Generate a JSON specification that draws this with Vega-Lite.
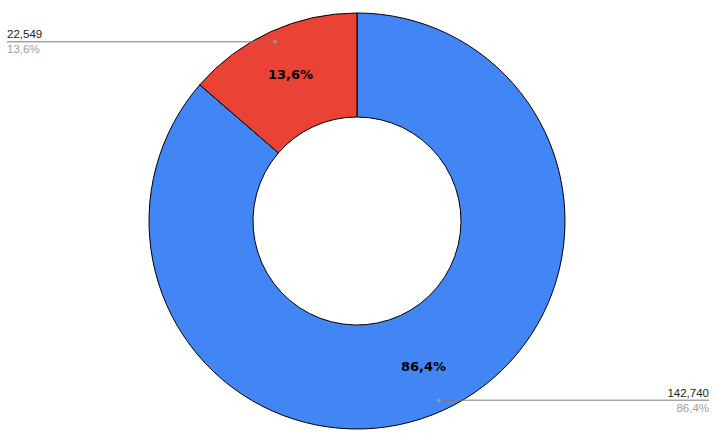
{
  "$schema": "https://vega.github.io/schema/vega-lite/v6.json",
  "width": 714,
  "height": 442,
  "autosize": {"type": "none"},
  "padding": {"left": 0, "top": 0, "right": 2, "bottom": 4},
  "background": "white",
  "config": {"view": {"stroke": null}},
  "data": {
    "values": [
      {"category": "Slice 1", "value": 142740},
      {"category": "Slice 2", "value": 22549}
    ]
  },
  "transform": [
    {"joinaggregate": [{"op": "sum", "field": "value", "as": "total"}]},
    {"stack": "value", "groupby": [], "sort": [{"field": "value", "order": "descending"}], "as": ["v0", "v1"]},
    {"calculate": "PI * (datum.v0 + datum.v1) / datum.total", "as": "mid"},
    {"calculate": "197 * sin(datum.mid)", "as": "dx"},
    {"calculate": "197 * cos(datum.mid)", "as": "dy"},
    {"calculate": "datum.dx < 0 ? -350 : 352", "as": "edge"},
    {"calculate": "replace(format(datum.value / datum.total, '.1%'), '.', ',')", "as": "pct"}
  ],
  "layer": [
    {
      "mark": {"type": "arc", "outerRadius": 208, "innerRadius": 104, "stroke": "#000000", "strokeWidth": 1},
      "encoding": {
        "theta": {"field": "value", "type": "quantitative", "stack": true},
        "order": {"field": "value", "type": "quantitative", "sort": "descending"},
        "color": {"field": "category", "type": "nominal", "scale": {"domain": ["Slice 1", "Slice 2"], "range": ["#4285F4", "#EA4335"]}, "legend": null}
      }
    },
    {
      "mark": {"type": "text", "radius": 160, "font": "DejaVu Sans", "fontWeight": "bold", "fontSize": 13, "color": "#000000", "align": "center", "baseline": "middle"},
      "encoding": {
        "theta": {"field": "value", "type": "quantitative", "stack": true},
        "order": {"field": "value", "type": "quantitative", "sort": "descending"},
        "text": {"field": "pct", "type": "nominal"}
      }
    },
    {
      "mark": {"type": "rule", "color": "#7a7a7a", "strokeWidth": 1},
      "encoding": {
        "x": {"field": "dx", "type": "quantitative", "scale": {"domain": [-357, 357]}, "axis": null},
        "x2": {"field": "edge"},
        "y": {"field": "dy", "type": "quantitative", "scale": {"domain": [-221, 221]}, "axis": null}
      }
    },
    {
      "mark": {"type": "point", "filled": true, "color": "#9a9a9a", "size": 12, "opacity": 1},
      "encoding": {
        "x": {"field": "dx", "type": "quantitative", "scale": {"domain": [-357, 357]}, "axis": null},
        "y": {"field": "dy", "type": "quantitative", "scale": {"domain": [-221, 221]}, "axis": null}
      }
    },
    {
      "transform": [{"filter": "datum.dx < 0"}],
      "mark": {"type": "text", "font": "Liberation Sans", "fontSize": 11.5, "color": "#222222", "align": "left", "baseline": "alphabetic", "dy": -3.5},
      "encoding": {
        "x": {"field": "edge", "type": "quantitative", "scale": {"domain": [-357, 357]}, "axis": null},
        "y": {"field": "dy", "type": "quantitative", "scale": {"domain": [-221, 221]}, "axis": null},
        "text": {"field": "value", "type": "quantitative", "format": ","}
      }
    },
    {
      "transform": [{"filter": "datum.dx < 0"}],
      "mark": {"type": "text", "font": "Liberation Sans", "fontSize": 11.5, "color": "#9e9e9e", "align": "left", "baseline": "alphabetic", "dy": 11.5},
      "encoding": {
        "x": {"field": "edge", "type": "quantitative", "scale": {"domain": [-357, 357]}, "axis": null},
        "y": {"field": "dy", "type": "quantitative", "scale": {"domain": [-221, 221]}, "axis": null},
        "text": {"field": "pct", "type": "nominal"}
      }
    },
    {
      "transform": [{"filter": "datum.dx >= 0"}],
      "mark": {"type": "text", "font": "Liberation Sans", "fontSize": 11.5, "color": "#222222", "align": "right", "baseline": "alphabetic", "dy": -3.5},
      "encoding": {
        "x": {"field": "edge", "type": "quantitative", "scale": {"domain": [-357, 357]}, "axis": null},
        "y": {"field": "dy", "type": "quantitative", "scale": {"domain": [-221, 221]}, "axis": null},
        "text": {"field": "value", "type": "quantitative", "format": ","}
      }
    },
    {
      "transform": [{"filter": "datum.dx >= 0"}],
      "mark": {"type": "text", "font": "Liberation Sans", "fontSize": 11.5, "color": "#9e9e9e", "align": "right", "baseline": "alphabetic", "dy": 11.5},
      "encoding": {
        "x": {"field": "edge", "type": "quantitative", "scale": {"domain": [-357, 357]}, "axis": null},
        "y": {"field": "dy", "type": "quantitative", "scale": {"domain": [-221, 221]}, "axis": null},
        "text": {"field": "pct", "type": "nominal"}
      }
    }
  ]
}
